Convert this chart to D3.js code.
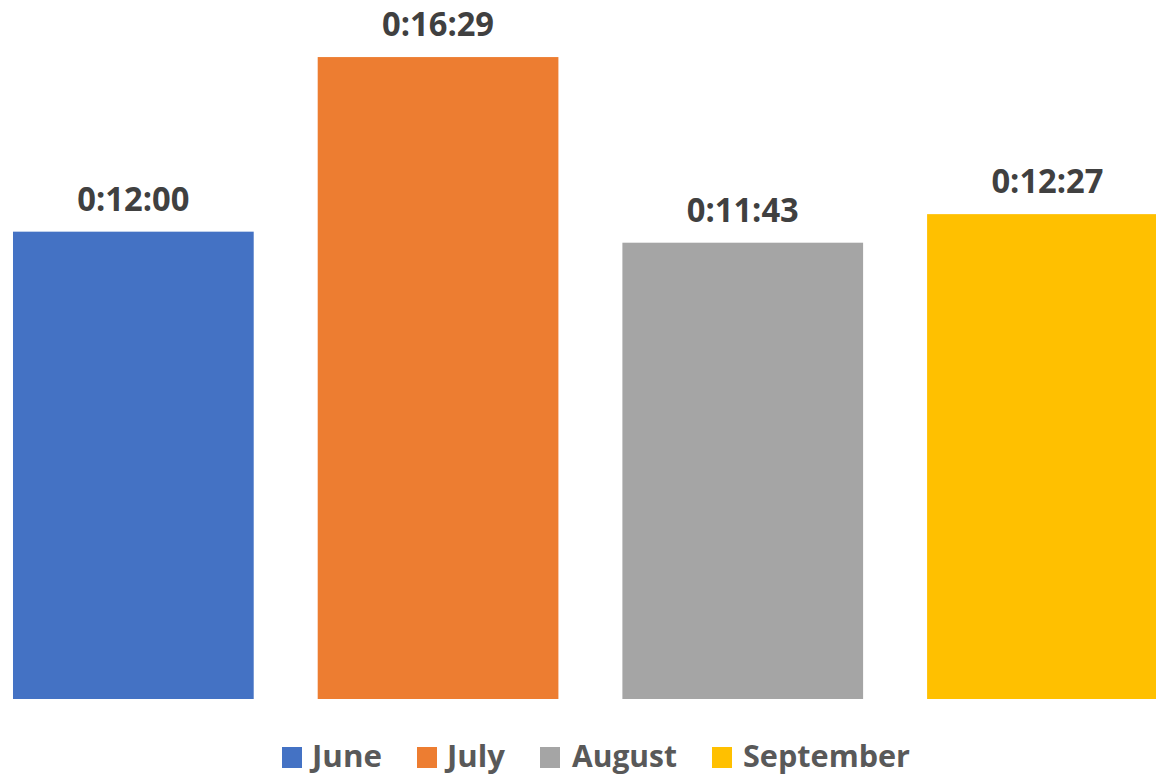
<!DOCTYPE html>
<html>
<head>
<meta charset="utf-8">
<script src="https://cdn.jsdelivr.net/npm/d3@7"></script>
<style>
  html, body { margin: 0; padding: 0; background: #fff; }
  svg { display: block; }
</style>
</head>
<body>
<svg id="chart" width="1156" height="776"></svg>
<script>
const months = ["June", "July", "August", "September"];
const durations = ["0:12:00", "0:16:29", "0:11:43", "0:12:27"];
const colors = ["#4472C4", "#ED7D31", "#A5A5A5", "#FFC000"];
const yMaxSeconds = 1080;

function toSeconds(s) {
  const p = s.split(":").map(Number);
  return p[0] * 3600 + p[1] * 60 + p[2];
}
const data = months.map((m, i) => ({ month: m, label: durations[i], value: toSeconds(durations[i]), color: colors[i] }));

const svg = d3.select("#chart");
const font = "'Open Sans', 'Liberation Sans', sans-serif";

const x = d3.scaleBand().domain(months).range([-19, 1199.8]).paddingInner(0.21).paddingOuter(0.105);
const y = d3.scaleLinear().domain([0, yMaxSeconds]).range([699, -2]);

svg.append("g").selectAll("rect").data(data).join("rect")
  .attr("x", d => x(d.month))
  .attr("y", d => y(d.value))
  .attr("width", x.bandwidth())
  .attr("height", d => y(0) - y(d.value))
  .attr("fill", d => d.color);

svg.append("g").selectAll("text").data(data).join("text")
  .attr("x", d => x(d.month) + x.bandwidth() / 2)
  .attr("y", d => y(d.value) - 21)
  .attr("text-anchor", "middle")
  .attr("font-family", font)
  .attr("font-weight", "bold")
  .attr("font-size", 34)
  .attr("textLength", 112)
  .attr("lengthAdjust", "spacingAndGlyphs")
  .attr("fill", "#404040")
  .text(d => d.label);

// legend
const legendItems = [
  { sx: 282, tx: 312, tw: 70 },
  { sx: 417, tx: 447, tw: 58 },
  { sx: 540, tx: 572, tw: 105 },
  { sx: 712, tx: 743, tw: 167 }
];
const lg = svg.append("g");
data.forEach((d, i) => {
  const it = legendItems[i];
  lg.append("rect").attr("x", it.sx).attr("y", 747).attr("width", 20).attr("height", 21).attr("fill", d.color);
  lg.append("text")
    .attr("x", it.tx).attr("y", 767)
    .attr("font-family", font).attr("font-weight", "bold").attr("font-size", 30)
    .attr("textLength", it.tw).attr("lengthAdjust", "spacingAndGlyphs")
    .attr("fill", "#595959")
    .text(d.month);
});
</script>
</body>
</html>
